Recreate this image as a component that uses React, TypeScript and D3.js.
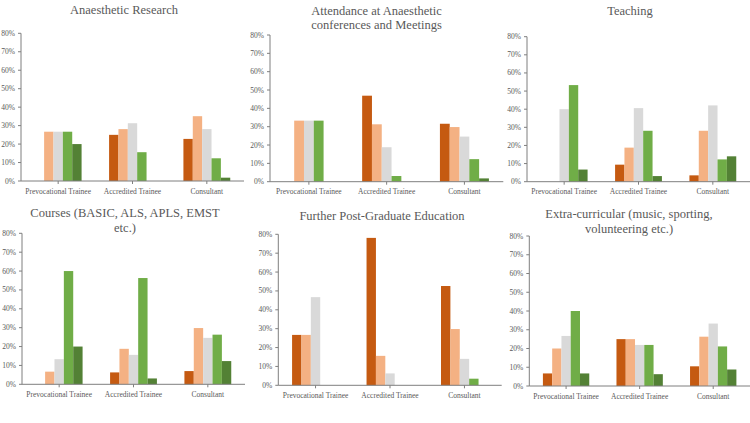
import React from "react";
import * as d3 from "d3";

const categories = ["Prevocational Trainee", "Accredited Trainee", "Consultant"];
const seriesNames = ["Level 1", "Level 2", "Level 3", "Level 4", "Level 5"];
const seriesColors = ["#C55A11", "#F4B183", "#D9D9D9", "#70AD47", "#538135"];
const yTicks = [0, 10, 20, 30, 40, 50, 60, 70, 80];

const researchValues = [
  [0, 26.7, 26.7, 26.7, 20],
  [25, 28.1, 31.3, 15.6, 0],
  [22.8, 35.1, 28.1, 12.3, 1.8],
];
const conferenceValues = [
  [0, 33.3, 33.3, 33.3, 0],
  [46.9, 31.3, 18.8, 3.1, 0],
  [31.6, 29.8, 24.6, 12.3, 1.8],
];
const teachingValues = [
  [0, 0, 40, 53.3, 6.7],
  [9.4, 18.8, 40.6, 28.1, 3.1],
  [3.5, 28.1, 42.1, 12.3, 14],
];
const coursesValues = [
  [0, 6.7, 13.3, 60, 20],
  [6.3, 18.8, 15.6, 56.3, 3.1],
  [7, 29.8, 24.6, 26.3, 12.3],
];
const educationValues = [
  [26.7, 26.7, 46.7, 0, 0],
  [78.1, 15.6, 6.3, 0, 0],
  [52.6, 29.8, 14, 3.5, 0],
];
const extraValues = [
  [6.7, 20, 26.7, 40, 6.7],
  [25, 25, 21.9, 21.9, 6.3],
  [10.5, 26.3, 33.3, 21.1, 8.8],
];

const titles = [
  ["Anaesthetic Research"],
  ["Attendance at Anaesthetic", "conferences  and Meetings"],
  ["Teaching"],
  ["Courses (BASIC, ALS, APLS, EMST", "etc.)"],
  ["Further Post-Graduate Education"],
  ["Extra-curricular (music, sporting,", "volunteering etc.)"],
];
const panelValues = [researchValues, conferenceValues, teachingValues, coursesValues, educationValues, extraValues];

// layout boxes (pixels)
const layouts = [
  { x0: 21, x1: 244, yTop: 33.3, yBot: 181, titleY: [9.5], cx: 124 },
  { x0: 270, x1: 503.3, yTop: 35, yBot: 181.7, titleY: [10.8, 25.3], cx: 376.5 },
  { x0: 527, x1: 750, yTop: 36.7, yBot: 181.7, titleY: [11], cx: 630 },
  { x0: 22, x1: 245, yTop: 233.3, yBot: 384.3, titleY: [212.5, 227.5], cx: 125 },
  { x0: 278.3, x1: 501.7, yTop: 234.3, yBot: 385.3, titleY: [216], cx: 382 },
  { x0: 529.3, x1: 750, yTop: 236, yBot: 386, titleY: [214, 228.5], cx: 629 },
];

const FONT = "'Liberation Serif', 'DejaVu Serif', serif";
const TEXT = "#595959";
const AXIS = "#7f7f7f";

function Panel({ idx }: { idx: number }) {
  const L = layouts[idx];
  const values = panelValues[idx];
  const x = d3.scaleBand<string>().domain(categories).range([L.x0, L.x1]);
  const bw = x.bandwidth();
  const groupFrac = 0.63;
  const inner = d3
    .scaleBand<string>()
    .domain(seriesNames)
    .range([bw * (1 - groupFrac) / 2, bw * (1 - (1 - groupFrac) / 2)]);
  const y = d3.scaleLinear().domain([0, 80]).range([L.yBot, L.yTop]);

  return (
    <g>
      {titles[idx].map((t, i) => (
        <text
          key={i}
          x={L.cx}
          y={L.titleY[i]}
          textAnchor="middle"
          dominantBaseline="central"
          fontFamily={FONT}
          fontSize={12.5}
          fill={TEXT}
        >
          {t}
        </text>
      ))}
      {categories.map((c, ci) =>
        seriesNames.map((s, si) => {
          const v = values[ci][si];
          if (!v) return null;
          return (
            <rect
              key={c + s}
              x={(x(c) as number) + (inner(s) as number)}
              y={y(v)}
              width={inner.bandwidth()}
              height={y(0) - y(v)}
              fill={seriesColors[si]}
            />
          );
        })
      )}
      <line x1={L.x0} x2={L.x0} y1={L.yTop} y2={L.yBot} stroke={AXIS} strokeWidth={1} />
      <line x1={L.x0} x2={L.x1} y1={L.yBot} y2={L.yBot} stroke={AXIS} strokeWidth={1} />
      {yTicks.map((t) => (
        <g key={t}>
          <line x1={L.x0 - 3} x2={L.x0} y1={y(t)} y2={y(t)} stroke={AXIS} strokeWidth={1} />
          <text
            x={L.x0 - 6}
            y={y(t)}
            textAnchor="end"
            dominantBaseline="central"
            fontFamily={FONT}
            fontSize={7.5}
            fill={TEXT}
          >
            {t + "%"}
          </text>
        </g>
      ))}
      {categories.map((c) => {
        const cx = (x(c) as number) + bw / 2;
        return (
          <g key={c}>
            <line x1={cx} x2={cx} y1={L.yBot} y2={L.yBot + 3} stroke={AXIS} strokeWidth={1} />
            <text
              x={cx}
              y={L.yBot + 10}
              textAnchor="middle"
              dominantBaseline="central"
              fontFamily={FONT}
              fontSize={7.5}
              fill={TEXT}
            >
              {c}
            </text>
          </g>
        );
      })}
    </g>
  );
}

export default function App() {
  return (
    <svg
      width={750}
      height={423}
      style={{ position: "absolute", left: 0, top: 0, background: "#fff" }}
    >
      <rect x={0} y={0} width={750} height={423} fill="#fff" />
      {layouts.map((_, i) => (
        <Panel key={i} idx={i} />
      ))}
    </svg>
  );
}
